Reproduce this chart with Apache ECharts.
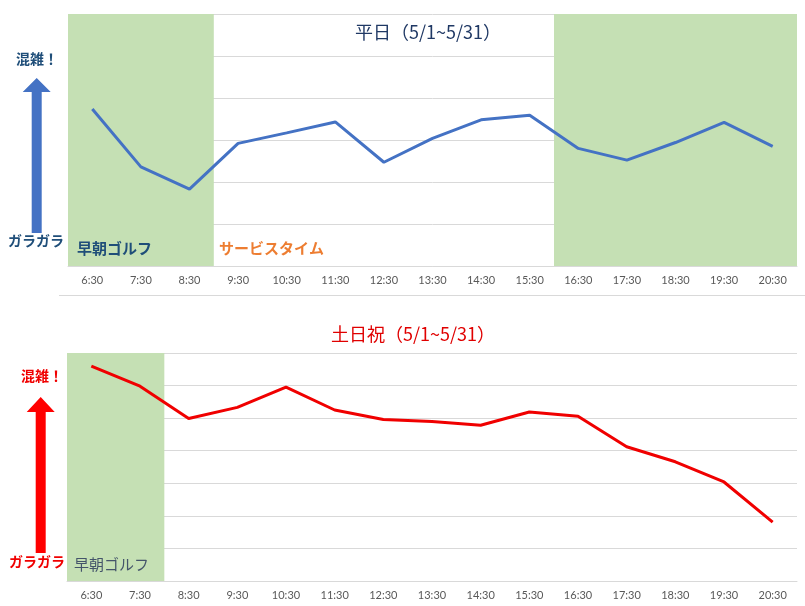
<!DOCTYPE html>
<html>
<head>
<meta charset="utf-8">
<script src="https://cdn.jsdelivr.net/npm/echarts@6/dist/echarts.min.js"></script>
<style>
  html, body { margin: 0; padding: 0; background: #fff; }
  #chart { width: 805px; height: 606px; }
</style>
</head>
<body>
<div id="chart"></div>
<script>
// 時間帯
const hours = ['6:30', '7:30', '8:30', '9:30', '10:30', '11:30', '12:30', '13:30',
  '14:30', '15:30', '16:30', '17:30', '18:30', '19:30', '20:30']
// 平日の混雑度
const weekday = [3.74, 2.36, 1.83, 2.92, 3.17, 3.43, 2.47, 3.04, 3.48, 3.59, 2.80, 2.52, 2.94, 3.42, 2.85]
// 土日祝の混雑度
const holiday = [6.6, 5.98, 4.99, 5.33, 5.95, 5.25, 4.96, 4.9, 4.78, 5.19, 5.06, 4.12, 3.66, 3.04, 1.81]
// 緑の帯（最初と最後の時間帯のインデックス）
const bandsWeekday = [[0, 2], [10, 14]]
const bandsHoliday = [[0, 1]]

const topMax = 6
const bottomMax = 7
const jp = '"Noto Sans CJK JP", sans-serif'

const chart = echarts.init(document.getElementById('chart'))

function xAxisFor(idx) {
  return {
    type: 'category',
    gridIndex: idx,
    data: hours,
    boundaryGap: true,
    axisLine: { lineStyle: { color: '#d9d9d9' } },
    axisTick: { show: false },
    splitLine: { show: false },
    axisLabel: { color: '#595959', fontSize: 11, margin: 9, fontFamily: 'Lato, sans-serif' }
  }
}
function yAxisFor(idx, max) {
  return {
    type: 'value',
    gridIndex: idx,
    min: 0,
    max: max,
    interval: 1,
    axisLabel: { show: false },
    axisLine: { show: false },
    axisTick: { show: false },
    splitLine: { lineStyle: { color: '#d9d9d9' } }
  }
}

// 帯をひとつの矩形として描く
function bandSeries(idx, bands, max) {
  return {
    type: 'custom', xAxisIndex: idx, yAxisIndex: idx, silent: true, z: 1,
    data: bands.map(b => [b[0], b[1], max]),
    encode: { x: [0, 1], y: 2 },
    renderItem: function (params, api) {
      const half = api.size([1, 0])[0] / 2
      const p0 = api.coord([api.value(0), api.value(2)])
      const p1 = api.coord([api.value(1), 0])
      return {
        type: 'rect',
        shape: { x: p0[0] - half, y: p0[1], width: p1[0] - p0[0] + half * 2, height: p1[1] - p0[1] },
        style: { fill: '#c5e0b4' }
      }
    }
  }
}

function arrow(x, tipY, bottomY, headW, headH, shaftW, color) {
  return {
    type: 'polygon',
    shape: {
      points: [
        [x, tipY], [x + headW / 2, tipY + headH], [x + shaftW / 2, tipY + headH],
        [x + shaftW / 2, bottomY], [x - shaftW / 2, bottomY], [x - shaftW / 2, tipY + headH],
        [x - headW / 2, tipY + headH]
      ]
    },
    style: { fill: color },
    z: 10
  }
}
function txt(x, y, text, color, size, weight, align) {
  return {
    type: 'text', x: x, y: y, z: 10,
    style: {
      text: text, fill: color, fontSize: size, fontWeight: weight || 'normal',
      fontFamily: jp, align: align || 'left', verticalAlign: 'middle'
    }
  }
}

chart.setOption({
  animation: false,
  grid: [
    { left: 68, right: 8, top: 14, height: 252 },
    { left: 67, right: 8, top: 353, height: 228 }
  ],
  xAxis: [xAxisFor(0), xAxisFor(1)],
  yAxis: [yAxisFor(0, topMax), yAxisFor(1, bottomMax)],
  series: [
    bandSeries(0, bandsWeekday, topMax),
    bandSeries(1, bandsHoliday, bottomMax),
    {
      name: '平日', type: 'line', xAxisIndex: 0, yAxisIndex: 0,
      data: weekday, symbol: 'none', z: 3,
      lineStyle: { color: '#4472c4', width: 3 }
    },
    {
      name: '土日祝', type: 'line', xAxisIndex: 1, yAxisIndex: 1,
      data: holiday, symbol: 'none', z: 3,
      lineStyle: { color: '#f00000', width: 3 }
    }
  ],
  graphic: [
    // 下の区切り線
    { type: 'line', shape: { x1: 59, y1: 295.5, x2: 805, y2: 295.5 }, style: { stroke: '#d9d9d9', lineWidth: 1 } },
    txt(428, 32, '平日（5/1~5/31）', '#1f3864', 18, 'normal', 'center'),
    txt(413, 334, '土日祝（5/1~5/31）', '#e00000', 18, 'normal', 'center'),
    txt(37, 59, '混雑！', '#1f4e79', 14, 'bold', 'center'),
    arrow(36.7, 78, 233, 28, 14, 10, '#4472c4'),
    txt(36, 241, 'ガラガラ', '#1f4e79', 14, 'bold', 'center'),
    txt(77, 248, '早朝ゴルフ', '#1f4e79', 15, 'bold'),
    txt(219, 248, 'サービスタイム', '#ed7d31', 15, 'bold'),
    txt(42, 376, '混雑！', '#f00000', 14, 'bold', 'center'),
    arrow(40.7, 397, 553, 28, 15, 10, '#ff0000'),
    txt(37, 562, 'ガラガラ', '#f00000', 14, 'bold', 'center'),
    txt(74, 564, '早朝ゴルフ', '#44546a', 15, 'normal')
  ]
})
</script>
</body>
</html>
